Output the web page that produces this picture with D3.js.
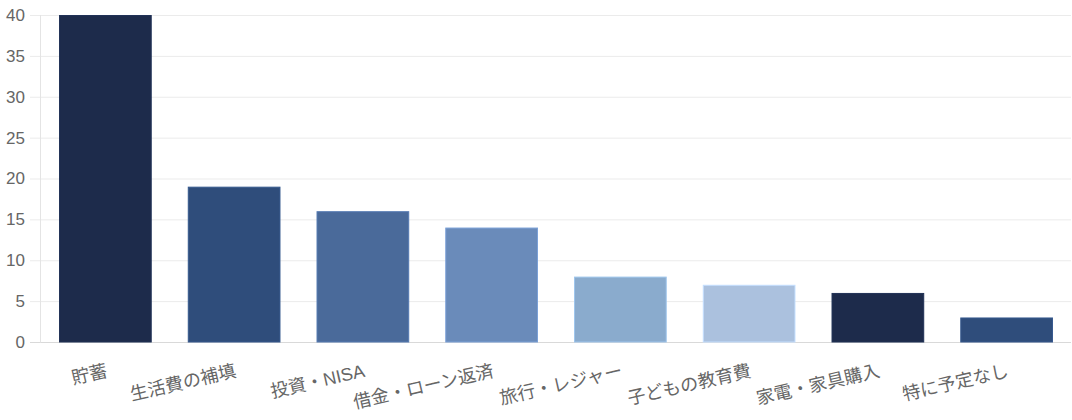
<!DOCTYPE html>
<html><head><meta charset="utf-8">
<script src="https://cdn.jsdelivr.net/npm/d3@7"></script>
<style>body{margin:0;background:#fff}svg{display:block}text{font-family:"Liberation Sans","Noto Sans CJK JP",sans-serif}</style>
</head><body><svg id="c" width="1072" height="420"></svg>
<script>
const categories = ["貯蓄","生活費の補填","投資・NISA","借金・ローン返済","旅行・レジャー","子どもの教育費","家電・家具購入","特に予定なし"];
const values = [40,19,16,14,8,7,6,3];
const colors = ["#1d2b4b","#2f4d7b","#4a6a9a","#6a8bba","#8aabcd","#abc1de","#1d2b4b","#2f4d7b"];
const yTicks = [0,5,10,15,20,25,30,35,40];

const svg = d3.select("#c");
const L = 40, R = 1071, T = 15, B = 342;
const x = d3.scaleBand().domain(categories).range([L + 1, R]).paddingInner(0.28).paddingOuter(0.14);
const y = d3.scaleLinear().domain([0, 40]).range([B, T]);

// grid
svg.append("g").selectAll("line").data(yTicks).join("line")
  .attr("x1", 30).attr("x2", R).attr("y1", d => y(d)+0.5).attr("y2", d => y(d)+0.5)
  .attr("stroke", d => d === 0 ? "#d9d9d9" : "#ebebeb").attr("stroke-width", 1);
svg.append("line").attr("x1", L+0.5).attr("x2", L+0.5).attr("y1", T).attr("y2", B+0.5)
  .attr("stroke", "#e4e4e4");

// y labels
svg.append("g").selectAll("text").data(yTicks).join("text")
  .attr("x", 25).attr("y", d => y(d)).attr("dy", "0.35em").attr("text-anchor", "end")
  .attr("fill", "#666").attr("font-size", 17).text(d => d);

// bars
svg.append("g").selectAll("rect").data(values).join("rect")
  .attr("x", (d, i) => x(categories[i]) + 0.5).attr("width", x.bandwidth() - 1)
  .attr("y", d => y(d) + 0.5).attr("height", d => B - y(d) - 0.5)
  .attr("fill", (d, i) => colors[i])
  .attr("stroke", (d, i) => d3.color(colors[i]).brighter(0.4)).attr("stroke-width", 1);

// x labels
svg.append("g").selectAll("text").data(categories).join("text")
  .attr("transform", d => `translate(${x(d) + x.bandwidth()/2},${B + 22}) rotate(-13)`)
  .attr("text-anchor", "end").attr("dominant-baseline", "hanging")
  .attr("fill", "#666").attr("font-size", 18).text(d => d);
</script></body></html>
